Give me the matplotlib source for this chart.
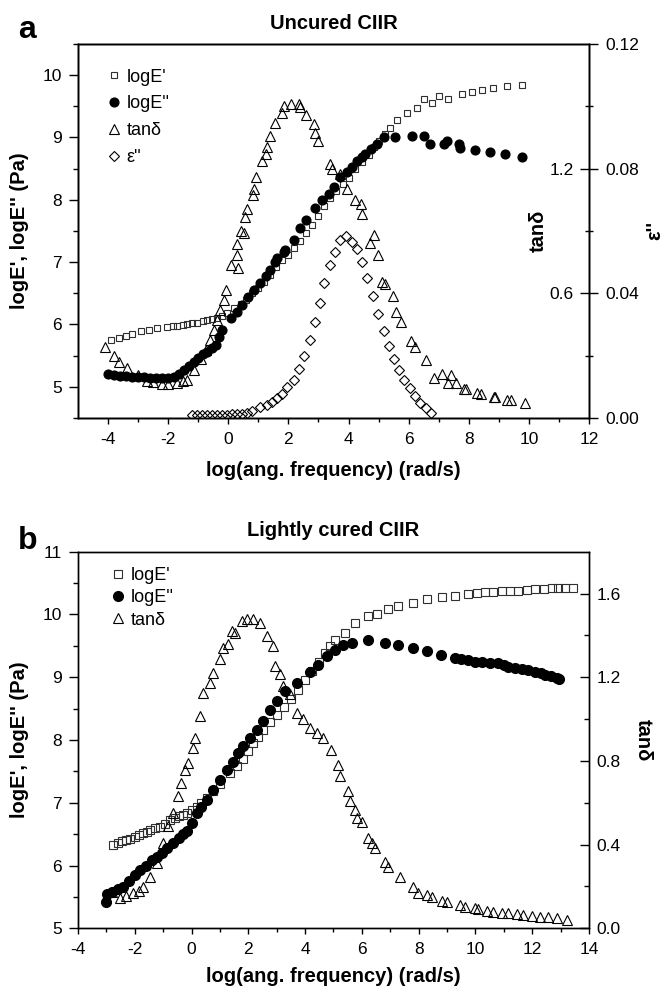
import matplotlib
matplotlib.use("Agg")
import matplotlib.pyplot as plt
from matplotlib.ticker import FixedLocator, FormatStrFormatter

plt.rcParams.update({'font.family': ['Liberation Sans', 'DejaVu Sans'],
                     'axes.unicode_minus': False,
                     'axes.linewidth': 1.0})

# ---------------- panel a : uncured CIIR ----------------
a_Ep_x = [-3.9, -3.63, -3.41, -3.19, -2.91, -2.64, -2.36, -2.03, -1.85, -1.69,
          -1.5, -1.36, -1.2, -1.03, -0.85, -0.7, -0.55, -0.37, -0.2, -0.03,
          0.19, 0.41, 0.6, 0.8, 1.0, 1.2, 1.4, 1.6, 1.8, 2.0,
          2.2, 2.4, 2.6, 2.8, 3.0, 3.2, 3.4, 3.6, 3.8, 4.0,
          4.23, 4.45, 4.67, 4.85, 5.0, 5.2, 5.39, 5.6, 5.95, 6.28,
          6.5, 6.78, 7.0, 7.3, 7.77, 8.1, 8.44, 8.8, 9.27, 9.78]
a_Ep_y = [5.75, 5.79, 5.82, 5.85, 5.89, 5.91, 5.94, 5.96, 5.97, 5.98,
          5.99, 6.0, 6.02, 6.03, 6.05, 6.07, 6.08, 6.1, 6.13, 6.18,
          6.26, 6.33, 6.4, 6.5, 6.58, 6.68, 6.8, 6.92, 7.03, 7.12,
          7.22, 7.34, 7.47, 7.6, 7.74, 7.9, 8.03, 8.14, 8.25, 8.35,
          8.49, 8.6, 8.72, 8.85, 8.94, 9.06, 9.16, 9.28, 9.39, 9.48,
          9.62, 9.56, 9.66, 9.62, 9.69, 9.73, 9.76, 9.79, 9.82, 9.84]

a_Epp_x = [-3.99, -3.8, -3.6, -3.4, -3.2, -3.0, -2.8, -2.6, -2.4, -2.2,
           -2.0, -1.8, -1.65, -1.47, -1.3, -1.14, -1.0, -0.85, -0.7, -0.55,
           -0.42, -0.3, -0.2, 0.08, 0.3, 0.47, 0.65, 0.85, 1.05, 1.24,
           1.4, 1.57, 1.63, 1.85, 1.9, 2.18, 2.4, 2.6, 2.9, 3.12,
           3.34, 3.51, 3.73, 3.95, 4.1, 4.29, 4.45, 4.56, 4.75, 4.95,
           5.17, 5.56, 6.11, 6.5, 6.72, 7.16, 7.27, 7.66, 7.72, 8.22,
           8.71, 9.21, 9.77]
a_Epp_y = [5.2, 5.19, 5.18, 5.17, 5.16, 5.16, 5.15, 5.14, 5.14, 5.14,
           5.14, 5.15, 5.2, 5.27, 5.33, 5.4, 5.46, 5.52, 5.56, 5.62,
           5.67, 5.8, 5.91, 6.1, 6.2, 6.32, 6.44, 6.56, 6.67, 6.77,
           6.88, 7.01, 7.07, 7.17, 7.2, 7.36, 7.55, 7.68, 7.87, 8.0,
           8.09, 8.2, 8.36, 8.45, 8.52, 8.62, 8.68, 8.73, 8.81, 8.89,
           9.0, 9.01, 9.03, 9.02, 8.9, 8.9, 8.94, 8.9, 8.83, 8.8,
           8.76, 8.73, 8.69]

a_tan_x = [-4.1, -3.8, -3.63, -3.36, -3.02, -2.7, -2.5, -2.2, -2.0, -1.7,
           -1.5, -1.38, -1.14, -0.92, -0.75, -0.61, -0.48, -0.37, -0.26, -0.15,
           -0.06, 0.08, 0.28, 0.32, 0.3, 0.41, 0.52, 0.57, 0.63, 0.83,
           0.85, 0.91, 1.11, 1.27, 1.3, 1.4, 1.57, 1.79, 1.85, 2.09,
           2.35, 2.4, 2.57, 2.84, 2.9, 2.98, 3.4, 3.46, 3.71, 3.95,
           4.23, 4.4, 4.45, 4.73, 4.84, 4.97, 5.12, 5.2, 5.47, 5.58,
           5.73, 6.09, 6.2, 6.58, 6.83, 7.11, 7.31, 7.41, 7.57, 7.83,
           7.91, 8.27, 8.42, 8.83, 8.88, 9.27, 9.41, 9.88]
a_tan_y = [0.342, 0.3, 0.269, 0.242, 0.205, 0.18, 0.172, 0.165, 0.163, 0.168,
           0.178, 0.184, 0.229, 0.285, 0.326, 0.374, 0.422, 0.471, 0.519, 0.567,
           0.616, 0.737, 0.785, 0.72, 0.836, 0.898, 0.89, 0.966, 1.006, 1.071,
           1.1, 1.161, 1.237, 1.269, 1.306, 1.358, 1.422, 1.467, 1.503, 1.511,
           1.511, 1.495, 1.458, 1.414, 1.374, 1.333, 1.221, 1.2, 1.172, 1.103,
           1.051, 1.03, 0.984, 0.842, 0.879, 0.782, 0.653, 0.643, 0.587, 0.511,
           0.462, 0.371, 0.342, 0.277, 0.194, 0.213, 0.169, 0.205, 0.167, 0.14,
           0.14, 0.119, 0.116, 0.103, 0.1, 0.087, 0.087, 0.073]

a_eps_x = [-1.2, -1.03, -0.87, -0.7, -0.53, -0.37, -0.2, -0.03, 0.13, 0.3,
           0.47, 0.63, 0.8, 1.07, 1.3, 1.46, 1.63, 1.79, 1.96, 2.18,
           2.35, 2.51, 2.71, 2.87, 3.04, 3.18, 3.4, 3.56, 3.73, 3.9,
           4.12, 4.29, 4.45, 4.62, 4.8, 4.98, 5.17, 5.34, 5.5, 5.67,
           5.86, 6.05, 6.22, 6.39, 6.58, 6.75]
a_eps_y = [0.001, 0.001, 0.001, 0.001, 0.001, 0.001, 0.001, 0.001, 0.0012, 0.0013,
           0.0014, 0.0016, 0.0022, 0.0034, 0.0043, 0.005, 0.0065, 0.0077, 0.0099, 0.0123,
           0.0158, 0.0199, 0.0249, 0.0308, 0.037, 0.0434, 0.0491, 0.0534, 0.0572, 0.0583,
           0.0566, 0.0542, 0.05, 0.0448, 0.0391, 0.0333, 0.0279, 0.0231, 0.019, 0.0155,
           0.0123, 0.0095, 0.0069, 0.0047, 0.0031, 0.0015]

# ---------------- panel b : lightly cured CIIR ----------------
b_Ep_x = [-2.76, -2.6, -2.45, -2.3, -2.17, -2.0, -1.85, -1.7, -1.58, -1.45,
          -1.3, -1.11, -0.95, -0.76, -0.6, -0.45, -0.3, -0.17, 0.0, 0.18,
          0.35, 0.53, 0.77, 1.0, 1.35, 1.6, 1.82, 2.0, 2.17, 2.35,
          2.53, 2.75, 3.0, 3.25, 3.5, 3.75, 4.0, 4.25, 4.5, 4.7,
          4.88, 5.05, 5.4, 5.76, 6.22, 6.52, 6.93, 7.28, 7.81, 8.28,
          8.81, 9.28, 9.75, 10.05, 10.34, 10.63, 10.92, 11.2, 11.51, 11.8,
          12.1, 12.4, 12.68, 12.9, 13.15, 13.45]
b_Ep_y = [6.33, 6.36, 6.39, 6.41, 6.43, 6.46, 6.49, 6.52, 6.54, 6.57,
          6.59, 6.62, 6.66, 6.73, 6.76, 6.79, 6.81, 6.83, 6.88, 6.94,
          7.0, 7.08, 7.18, 7.3, 7.47, 7.58, 7.7, 7.82, 7.95, 8.05,
          8.16, 8.28, 8.4, 8.52, 8.66, 8.8, 8.95, 9.1, 9.25, 9.38,
          9.5, 9.6, 9.7, 9.86, 9.97, 10.01, 10.09, 10.14, 10.19, 10.24,
          10.28, 10.3, 10.33, 10.34, 10.35, 10.36, 10.37, 10.37, 10.38, 10.39,
          10.41, 10.41, 10.42, 10.42, 10.42, 10.42]

b_Epp_x = [-3.0, -2.98, -2.8, -2.6, -2.4, -2.2, -2.0, -1.82, -1.6, -1.4,
           -1.23, -1.05, -0.85, -0.64, -0.45, -0.3, -0.17, 0.0, 0.18, 0.35,
           0.55, 0.77, 1.0, 1.24, 1.45, 1.65, 1.82, 2.05, 2.29, 2.5,
           2.76, 3.0, 3.3, 3.7, 4.17, 4.45, 4.76, 5.05, 5.35, 5.64,
           6.22, 6.81, 7.28, 7.81, 8.28, 8.79, 9.28, 9.5, 9.75, 10.0,
           10.22, 10.5, 10.81, 11.0, 11.16, 11.4, 11.63, 11.85, 12.1, 12.3,
           12.45, 12.65, 12.86, 12.95]
b_Epp_y = [5.42, 5.55, 5.58, 5.62, 5.66, 5.75, 5.85, 5.93, 6.0, 6.08,
           6.14, 6.2, 6.28, 6.36, 6.44, 6.5, 6.55, 6.68, 6.83, 6.93,
           7.05, 7.21, 7.36, 7.52, 7.65, 7.8, 7.9, 8.03, 8.16, 8.3,
           8.48, 8.62, 8.78, 8.91, 9.09, 9.2, 9.33, 9.44, 9.52, 9.55,
           9.6, 9.55, 9.52, 9.47, 9.41, 9.36, 9.31, 9.29, 9.27, 9.25,
           9.24, 9.23, 9.23, 9.2, 9.17, 9.15, 9.13, 9.11, 9.09, 9.06,
           9.04, 9.02, 8.99, 8.97]

b_tan_x = [-2.81, -2.52, -2.3, -2.05, -1.85, -1.7, -1.46, -1.23, -1.0, -0.82,
           -0.64, -0.47, -0.36, -0.23, -0.11, 0.06, 0.12, 0.29, 0.41, 0.65,
           0.77, 1.0, 1.12, 1.29, 1.41, 1.53, 1.77, 1.94, 2.17, 2.4,
           2.65, 2.88, 2.93, 3.11, 3.23, 3.46, 3.7, 3.94, 4.17, 4.41,
           4.64, 4.9, 5.17, 5.23, 5.52, 5.58, 5.76, 5.82, 5.99, 6.23,
           6.34, 6.46, 6.81, 6.92, 7.34, 7.81, 7.99, 8.28, 8.46, 8.81,
           8.99, 9.46, 9.63, 9.98, 10.1, 10.39, 10.63, 10.92, 11.16, 11.45,
           11.69, 11.98, 12.27, 12.57, 12.86, 13.21]
b_tan_y = [0.175, 0.144, 0.155, 0.168, 0.18, 0.199, 0.247, 0.311, 0.407, 0.487,
           0.551, 0.63, 0.695, 0.758, 0.79, 0.862, 0.91, 1.014, 1.126, 1.174,
           1.222, 1.285, 1.341, 1.357, 1.421, 1.413, 1.469, 1.48, 1.48, 1.461,
           1.397, 1.349, 1.253, 1.213, 1.157, 1.118, 1.03, 0.998, 0.958, 0.934,
           0.91, 0.85, 0.782, 0.726, 0.654, 0.606, 0.567, 0.527, 0.506, 0.431,
           0.407, 0.383, 0.319, 0.295, 0.247, 0.199, 0.168, 0.16, 0.151, 0.132,
           0.127, 0.112, 0.103, 0.096, 0.091, 0.084, 0.08, 0.075, 0.072, 0.069,
           0.064, 0.06, 0.056, 0.053, 0.048, 0.04]

TICK_FS = 12.5
LAB_FS = 14.5
XLABEL = 'log(ang. frequency) (rad/s)'
YLABEL = "logE', logE'' (Pa)"

sq = dict(ls='none', marker='s', mfc='none', mec='#303030', mew=0.8)
ci = dict(ls='none', marker='o', mfc='black', mec='black')
tr = dict(ls='none', marker='^', mfc='none', mec='black', mew=0.8)
di = dict(ls='none', marker='D', mfc='none', mec='black', mew=0.8)


def style_left(ax, xmaj, xmin, ymaj, ymin):
    ax.xaxis.set_major_locator(FixedLocator(xmaj))
    ax.xaxis.set_minor_locator(FixedLocator(xmin))
    ax.yaxis.set_major_locator(FixedLocator(ymaj))
    ax.yaxis.set_minor_locator(FixedLocator(ymin))
    ax.tick_params(axis='x', which='major', direction='out', length=4, width=1,
                   pad=6, labelsize=TICK_FS, top=False)
    ax.tick_params(axis='x', which='minor', direction='out', length=3, width=1, top=False)
    ax.tick_params(axis='y', which='major', direction='out', length=6.5, width=1,
                   pad=5, labelsize=TICK_FS, right=False)
    ax.tick_params(axis='y', which='minor', direction='out', length=3.6, width=1, right=False)
    ax.set_xlabel(XLABEL, fontsize=LAB_FS, fontweight='bold')
    ax.set_ylabel(YLABEL, fontsize=LAB_FS, fontweight='bold')
    ax.yaxis.set_label_coords(-0.096, 0.5)


fig = plt.figure(figsize=(6.7, 9.89), dpi=100)

# ================= panel a =================
ax1 = fig.add_axes([0.1164, 0.5774, 0.7627, 0.3781])
ax1t = ax1.twinx()
ax1e = ax1.twinx()

h1, = ax1.plot(a_Ep_x, a_Ep_y, ms=5, label="logE'", **sq)
h2, = ax1.plot(a_Epp_x, a_Epp_y, ms=6.3, label="logE''", **ci)
h3, = ax1t.plot(a_tan_x, a_tan_y, ms=6.8, label='tanδ', **tr)
h4, = ax1e.plot(a_eps_x, a_eps_y, ms=4.6, label="ε''", **di)

ax1.set_xlim(-5, 12)
ax1.set_ylim(4.5, 10.5)
ax1t.set_ylim(0, 1.8)
ax1e.set_ylim(0, 0.12)
style_left(ax1, range(-4, 13, 2), range(-3, 12, 2), range(5, 11), [4.5 + i for i in range(7)])
ax1.xaxis.set_label_coords(0.5, -0.115)

ax1t.yaxis.set_major_locator(FixedLocator([0.6, 1.2]))
ax1t.yaxis.set_minor_locator(FixedLocator([0.3, 0.9, 1.5]))
ax1t.yaxis.set_major_formatter(FormatStrFormatter('%.1f'))
ax1t.tick_params(axis='y', which='major', direction='in', length=6.5, width=1,
                 pad=-11, labelsize=TICK_FS)
ax1t.tick_params(axis='y', which='minor', direction='in', length=3.2, width=1)
for lbl in ax1t.get_yticklabels():
    lbl.set_horizontalalignment('right')
ax1t.set_ylabel('tanδ', fontsize=LAB_FS, fontweight='bold', rotation=90,
                va='center', ha='center')
ax1t.yaxis.set_label_coords(0.901, 0.5)

ax1e.yaxis.set_major_locator(FixedLocator([0, 0.04, 0.08, 0.12]))
ax1e.yaxis.set_minor_locator(FixedLocator([0.02, 0.06, 0.10]))
ax1e.yaxis.set_major_formatter(FormatStrFormatter('%.2f'))
ax1e.tick_params(axis='y', which='major', direction='out', length=6.5, width=1,
                 pad=5, labelsize=TICK_FS)
ax1e.tick_params(axis='y', which='minor', direction='out', length=3.2, width=1)
ax1e.set_ylabel("ε''", fontsize=LAB_FS, fontweight='bold', rotation=90,
                va='center', ha='center')
ax1e.yaxis.set_label_coords(1.129, 0.5)

ax1e.legend(handles=[h1, h2, h3, h4], loc='upper left', bbox_to_anchor=(0.056, 0.934),
            frameon=False, fontsize=13, handlelength=0.8, handletextpad=0.3,
            labelspacing=0.54, borderpad=0, borderaxespad=0)

fig.text(333.5 / 670, 1 - 29.3 / 989, 'Uncured CIIR', ha='center', va='baseline',
         fontsize=14.5, fontweight='bold')
fig.text(18 / 670, 1 - 38.3 / 989, 'a', ha='left', va='baseline',
         fontsize=23, fontweight='bold')

# ================= panel b =================
ax2 = fig.add_axes([0.1164, 0.0614, 0.7627, 0.3808])
ax2t = ax2.twinx()

g1, = ax2.plot(b_Ep_x, b_Ep_y, ms=5.8, label="logE'", **sq)
g2, = ax2.plot(b_Epp_x, b_Epp_y, ms=7, label="logE''", **ci)
g3, = ax2t.plot(b_tan_x, b_tan_y, ms=7.4, label='tanδ', **tr)

ax2.set_xlim(-4, 14)
ax2.set_ylim(5, 11)
ax2t.set_ylim(0, 1.8)
style_left(ax2, range(-4, 15, 2), range(-3, 14, 2), range(5, 12), [5.5 + i for i in range(6)])
ax2.xaxis.set_label_coords(0.5, -0.103)

ax2t.yaxis.set_major_locator(FixedLocator([0.0, 0.4, 0.8, 1.2, 1.6]))
ax2t.yaxis.set_minor_locator(FixedLocator([0.2, 0.6, 1.0, 1.4]))
ax2t.yaxis.set_major_formatter(FormatStrFormatter('%.1f'))
ax2t.tick_params(axis='y', which='major', direction='in', length=6.5, width=1,
                 pad=5.5, labelsize=TICK_FS)
ax2t.tick_params(axis='y', which='minor', direction='in', length=3.4, width=1)
ax2t.set_ylabel('tanδ', fontsize=LAB_FS, fontweight='bold', rotation=270,
                va='center', ha='center')
ax2t.yaxis.set_label_coords(1.106, 0.5)

ax2t.legend(handles=[g1, g2, g3], loc='upper left', bbox_to_anchor=(0.064, 0.959),
            frameon=False, fontsize=13, handlelength=0.8, handletextpad=0.3,
            labelspacing=0.29, borderpad=0, borderaxespad=0)

fig.text(332.8 / 670, 1 - 536 / 989, 'Lightly cured CIIR', ha='center', va='baseline',
         fontsize=14.5, fontweight='bold')
fig.text(18 / 670, 1 - 549.3 / 989, 'b', ha='left', va='baseline',
         fontsize=23, fontweight='bold')

fig.savefig('out.png', dpi=100)
